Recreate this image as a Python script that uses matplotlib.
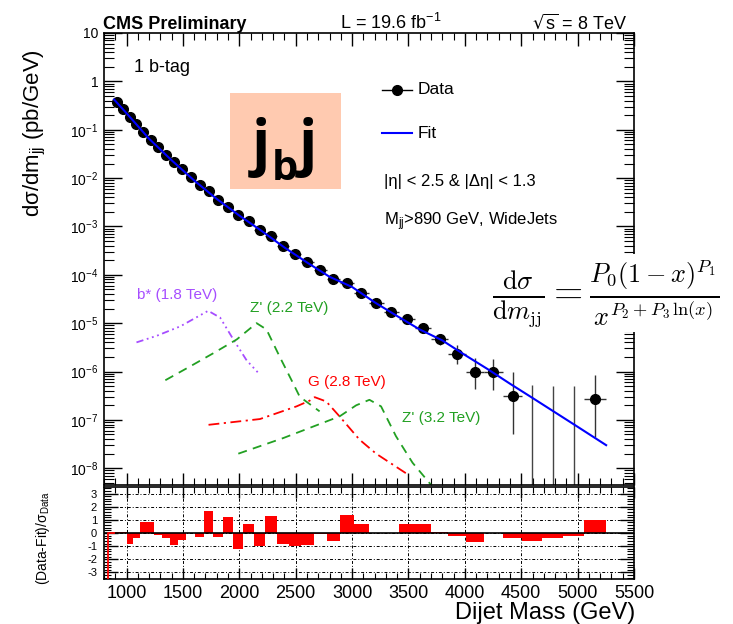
import matplotlib
matplotlib.use('Agg')
import matplotlib.pyplot as plt
import numpy as np
from matplotlib.ticker import LogLocator, MultipleLocator, NullFormatter, FuncFormatter
from matplotlib.lines import Line2D
from matplotlib.patches import Rectangle

plt.rcParams['font.family'] = ['Liberation Sans', 'DejaVu Sans']
plt.rcParams['axes.unicode_minus'] = False

# ---- data ----
lumi = 19600.0  # pb^-1
first_edge = 838
mjj_edges = np.array([890, 944, 1000, 1058, 1118, 1181, 1246, 1313, 1383, 1455, 1530,
                      1607, 1687, 1770, 1856, 1945, 2037, 2132, 2231, 2332, 2438,
                      2546, 2659, 2775, 2895, 3019, 3147, 3279, 3416, 3558, 3704,
                      3854, 4010, 4171, 4337, 4509, 4686, 4869, 5058, 5253])
xsec = np.array([0.373, 0.263, 0.182, 0.129, 0.0892, 0.0609, 0.0436, 0.0304, 0.0213,
                 0.0151, 0.0106, 0.00727, 0.00535, 0.0036, 0.00255, 0.00174, 0.00128,
                 8.6e-4, 6.3e-4, 4.0e-4, 2.7e-4, 1.82e-4, 1.28e-4, 8.3e-5, 6.8e-5,
                 4.2e-5, 2.6e-5, 1.67e-5, 1.22e-5, 7.96e-6, 4.7e-6, 2.34e-6, 9.6e-7,
                 9.6e-7, 3.05e-7, 0, 0, 0, 2.7e-7])
resid = np.array([0.05, 0.05, -0.8, -0.4, 0.85, 0.85, -0.15, -0.4, -0.9, -0.55, 0.0,
                  -0.3, 1.65, -0.3, 1.2, -1.25, 0.7, -1.0, 1.3, -0.8, -1.0, -0.9,
                  -0.05, -0.6, 1.35, 0.65, 0.0, 0.0, 0.65, 0.65, 0.05, -0.25, -0.7,
                  0.0, -0.4, -0.6, -0.4, -0.25, 1.0])

fit_m = [890, 1000, 1200, 1400, 1600, 1800, 2000, 2200, 2400, 2600, 2800, 3000,
         3200, 3400, 3600, 3800, 4000, 4200, 4400, 4600, 4800, 5000, 5253]
fit_val = [0.42, 0.219, 0.065, 0.0233, 0.0089, 0.0037, 0.00168, 8.0e-4, 3.67e-4,
           1.8e-4, 9.1e-5, 5.6e-5, 2.7e-5, 1.4e-5, 7.4e-6, 4.4e-6, 2.2e-6, 1.13e-6,
           5.6e-7, 2.84e-7, 1.43e-7, 7.2e-8, 3.0e-8]

bstar_m = [1088, 1270, 1477, 1724, 1830, 1947, 2065, 2183]
bstar_v = [4.0e-6, 5.5e-6, 8.6e-6, 1.8e-5, 1.3e-5, 4.6e-6, 1.7e-6, 8.6e-7]
zp22_m = [1344, 1565, 1771, 1977, 2153, 2241, 2359, 2477, 2536, 2712]
zp22_v = [6.6e-7, 1.28e-6, 2.4e-6, 4.6e-6, 1.0e-5, 7.4e-6, 2.0e-6, 5.7e-7, 3.0e-7, 1.5e-7]
g28_m = [1727, 2183, 2507, 2624, 2668, 2771, 2889, 3066, 3213, 3477]
g28_v = [7.9e-8, 1.04e-7, 1.9e-7, 2.5e-7, 2.95e-7, 2.4e-7, 1.18e-7, 3.9e-8, 2.0e-8, 7.9e-9]
zp32_m = [1991, 2389, 2889, 3036, 3154, 3257, 3389, 3536, 3712]
zp32_v = [2.0e-8, 4.2e-8, 1.18e-7, 2.0e-7, 2.6e-7, 1.9e-7, 4.6e-8, 1.3e-8, 4.2e-9]

# Garwood 68% intervals for small counts
garwood = {0: (0, 1.841), 1: (0.173, 3.300), 2: (0.708, 4.638), 3: (1.367, 5.918),
           4: (2.086, 7.163), 5: (2.840, 8.382), 6: (3.620, 9.584), 7: (4.419, 10.77),
           8: (5.232, 11.95), 9: (6.057, 13.11), 10: (6.891, 14.27)}

W, H = 733, 624
def fx(p):
    return p / W
def fy(p):
    return 1 - p / H

centers = 0.5 * (mjj_edges[:-1] + mjj_edges[1:])
widths = np.diff(mjj_edges)
counts = np.round(xsec * lumi * widths).astype(int)
lo, hi = [], []
for n in counts:
    if n in garwood:
        a, b = garwood[n]
    else:
        a, b = n - np.sqrt(n), n + np.sqrt(n)
    lo.append(a)
    hi.append(b)
lo = np.array(lo) / (lumi * widths)
hi = np.array(hi) / (lumi * widths)
has = xsec > 0

fig = plt.figure(figsize=(7.33, 6.24), dpi=100)
ax = fig.add_axes([fx(104), fy(485), fx(634) - fx(104), fy(33) - fy(485)])
axr = fig.add_axes([fx(104), fy(579), fx(634) - fx(104), fy(487) - fy(579)])

# upper panel
ax.errorbar(centers[has], xsec[has], xerr=widths[has] / 2,
            yerr=[xsec[has] - lo[has], hi[has] - xsec[has]],
            fmt='o', color='black', ecolor='#333333', ms=7, elinewidth=1, capsize=0, zorder=2)
ax.vlines(centers[~has], 1e-12, hi[~has], color='#444444', lw=1, zorder=2)
ax.plot(fit_m, fit_val, color='#0000FF', lw=1.5, zorder=3)

ax.plot(bstar_m, bstar_v, color='#A64DFF', lw=1.3, ls=(0, (4, 2, 1, 2, 1, 2, 1, 2)))
ax.plot(zp22_m, zp22_v, color='#22A022', lw=1.3, ls=(0, (5, 3.5)))
ax.plot(g28_m, g28_v, color='#FF0000', lw=1.3, ls=(0, (6, 2.5, 1.2, 2.5)))
ax.plot(zp32_m, zp32_v, color='#22A022', lw=1.3, ls=(0, (5, 3.5)))

ax.set_yscale('log')
ax.set_xlim(800, 5500)
ax.set_ylim(4.5e-9, 10)
ax.yaxis.set_major_locator(LogLocator(base=10, numticks=30))
ax.yaxis.set_minor_locator(LogLocator(base=10, subs=np.arange(2, 10), numticks=30))
ax.yaxis.set_minor_formatter(NullFormatter())

def logfmt(v, pos):
    e = int(round(np.log10(v)))
    if e == 0:
        return '1'
    if e == 1:
        return '10'
    return r'$\mathregular{10^{%d}}$' % e
ax.yaxis.set_major_formatter(FuncFormatter(logfmt))
ax.xaxis.set_major_locator(MultipleLocator(500))
ax.xaxis.set_minor_locator(MultipleLocator(100))
ax.tick_params(axis='both', which='both', direction='in', top=True, right=True)
ax.tick_params(axis='y', which='major', length=13, width=1, labelsize=10, pad=4)
ax.tick_params(axis='y', which='minor', length=7, width=0.8)
ax.tick_params(axis='x', which='major', length=9, width=1, labelbottom=False)
ax.tick_params(axis='x', which='minor', length=5, width=0.8)
for s in ax.spines.values():
    s.set_linewidth(1.2)

# lower panel
axr.bar(mjj_edges[:-1], resid, width=widths, align='edge', color='#FF0000', lw=0, zorder=2)
axr.plot([first_edge, first_edge, mjj_edges[0]], [-3.5, 0, 0], color='#FF0000', lw=1.3, zorder=3)
axr.axhline(0, color='black', lw=1.2, zorder=2.5)
axr.set_xlim(800, 5500)
axr.set_ylim(-3.5, 3.5)
axr.xaxis.set_major_locator(MultipleLocator(500))
axr.xaxis.set_minor_locator(MultipleLocator(100))
axr.yaxis.set_major_locator(MultipleLocator(1))
axr.yaxis.set_minor_locator(MultipleLocator(0.2))
axr.set_axisbelow(True)
axr.grid(True, which='major', color='black', lw=0.7, ls=(0, (3, 2, 1, 2)))
axr.tick_params(axis='both', which='both', direction='in', top=True, right=True)
axr.tick_params(axis='x', which='major', length=8, width=1, labelsize=13, pad=4)
axr.tick_params(axis='x', which='minor', length=4, width=0.8)
axr.tick_params(axis='y', which='major', length=10, width=1, labelsize=8, pad=5)
axr.tick_params(axis='y', which='minor', length=5, width=0.8)
for s in axr.spines.values():
    s.set_linewidth(1.2)

# texts
fig.text(fx(103), fy(29), 'CMS Preliminary', fontsize=13, fontweight='bold', va='baseline')
fig.text(fx(340), fy(29), r'L = 19.6 fb$\mathregular{^{-1}}$', fontsize=13, va='baseline')
fig.text(fx(627), fy(29), r'$\mathregular{\sqrt{s}}$ = 8 TeV', fontsize=13, va='baseline', ha='right')
fig.text(fx(134), fy(68), '1 b-tag', fontsize=13, va='center')

fig.text(fx(35), fy(133), r'd$\mathregular{\sigma}$/dm$\mathregular{_{jj}}$ (pb/GeV)', fontsize=16,
         rotation=90, ha='center', va='center')
fig.text(fx(43), fy(538), r'(Data-Fit)/$\mathregular{\sigma_{Data}}$', fontsize=10,
         rotation=90, ha='center', va='center')
fig.text(fx(635), fy(613), 'Dijet Mass (GeV)', fontsize=17, ha='right', va='center')

# legend
fig.add_artist(Line2D([fx(382), fx(412)], [fy(90), fy(90)], color='black', lw=1))
fig.add_artist(Line2D([fx(397)], [fy(90)], color='black', marker='o', ms=7))
fig.text(fx(418), fy(90), 'Data', fontsize=12.5, va='center')
fig.add_artist(Line2D([fx(382), fx(412)], [fy(133), fy(133)], color='#0000FF', lw=1.5))
fig.text(fx(418), fy(133), 'Fit', fontsize=12.5, va='center')
fig.text(fx(384), fy(181), '|η| < 2.5 & |Δη| < 1.3', fontsize=12, va='center')
fig.text(fx(384), fy(222), r'M$\mathregular{_{jj}}$>890 GeV, WideJets', fontsize=12, va='center')

# signal labels
fig.text(fx(137), fy(295), 'b* (1.8 TeV)', fontsize=11, color='#A64DFF', va='center')
fig.text(fx(250), fy(308), "Z' (2.2 TeV)", fontsize=11, color='#22A022', va='center')
fig.text(fx(308), fy(382), 'G (2.8 TeV)', fontsize=11, color='#FF0000', va='center')
fig.text(fx(402), fy(418), "Z' (3.2 TeV)", fontsize=11, color='#22A022', va='center')

# fit function
fig.text(fx(606), fy(293),
         r'$\frac{\mathrm{d}\sigma}{\mathrm{d}m_{\mathrm{jj}}} = \frac{P_0(1-x)^{P_1}}{x^{P_2+P_3\,\ln(x)}}$',
         fontsize=27, ha='center', va='center', math_fontfamily='cm',
         bbox=dict(facecolor='white', edgecolor='none', pad=2))

# j_b j box
fig.add_artist(Rectangle((fx(230), fy(189)), fx(341) - fx(230), fy(93) - fy(189),
                         transform=fig.transFigure, facecolor='#FFCAB0', edgecolor='none'))
fig.text(fx(261), fy(163), 'j', fontsize=43, fontweight='bold', family='Open Sans', ha='center', va='baseline')
fig.text(fx(285), fy(180), 'b', fontsize=30, fontweight='bold', family='Open Sans', ha='center', va='baseline')
fig.text(fx(308), fy(163), 'j', fontsize=43, fontweight='bold', family='Open Sans', ha='center', va='baseline')

fig.savefig('out.png', dpi=100)
